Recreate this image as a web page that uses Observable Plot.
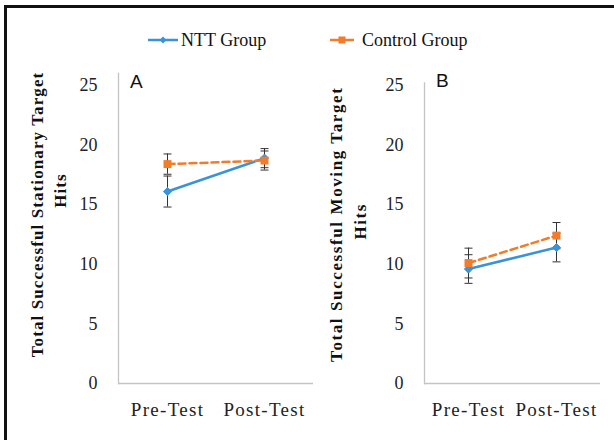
<!DOCTYPE html>
<html><head><meta charset="utf-8">
<script src="https://cdn.jsdelivr.net/npm/d3@7"></script>
<script src="https://cdn.jsdelivr.net/npm/@observablehq/plot@0.6"></script>
<style>
body{margin:0;background:#fff;width:614px;height:440px;overflow:hidden;position:relative;font-family:"Liberation Serif",serif;}
#border{position:absolute;left:4px;top:5px;width:700px;height:600px;border-top:3px solid #111;border-left:3px solid #111;}
.panel{position:absolute;top:60px;}
.panel svg{overflow:visible}
.panel g[aria-label="x-axis tick label"] text{letter-spacing:1.3px;font-size:19px}
.panelA g[aria-label="text"] text{letter-spacing:1.1px}
.panelB g[aria-label="text"] text{letter-spacing:1.6px}
.letter{position:absolute;font-family:"Liberation Sans",Arial,sans-serif;font-size:19px;color:#111;line-height:1}
#legend{position:absolute;left:0;top:0;}
#legend text{font-family:"Liberation Serif",serif;font-size:18px;fill:#111}
</style>
</head><body>
<div id="border"></div>
<div id="legend"></div>
<div class="panel panelA" id="pA" style="left:0px"></div>
<div class="panel panelB" id="pB" style="left:320px"></div>
<div class="letter" style="left:130px;top:72px">A</div>
<div class="letter" style="left:436px;top:71px">B</div>
<script>
// ---- data ----
const categories = ["Pre-Test", "Post-Test"];
const groups = ["NTT Group", "Control Group"];
const yTicks = [0, 5, 10, 15, 20, 25];
// Panel A: stationary target hits
const nttA = [16.1, 18.9];
const nttAErr = [1.3, 0.8];
const ctrlA = [18.4, 18.7];
const ctrlAErr = [0.85, 0.8];
// Panel B: moving target hits
const nttB = [9.6, 11.4];
const nttBErr = [1.2, 1.2];
const ctrlB = [10.1, 12.4];
const ctrlBErr = [1.25, 1.1];
const titleA = ["Total Successful Stationary Target", "Hits"];
const titleB = ["Total Successful Moving Target", "Hits"];

const BLUE = "#3a93d8", ORANGE = "#f07c2c", ERR = "#333";

function rows(ntt, nttErr, ctrl, ctrlErr) {
  const out = [];
  categories.forEach((c, i) => {
    out.push({group: groups[0], phase: c, value: ntt[i], err: nttErr[i]});
    out.push({group: groups[1], phase: c, value: ctrl[i], err: ctrlErr[i]});
  });
  return out;
}
const capSymbol = {draw(ctx, size) { const w = Math.sqrt(size / Math.PI); ctx.moveTo(-w, 0); ctx.lineTo(w, 0); }};

function panel(data, o) {
  const ntt = data.filter(d => d.group === groups[0]);
  const ctrl = data.filter(d => d.group === groups[1]);
  return Plot.plot({
    width: o.width, height: 360,
    marginLeft: o.ml, marginRight: o.mr, marginTop: o.mt, marginBottom: 37,
    style: {fontFamily: "'Liberation Serif', serif", fontSize: "18px", color: "#222", background: "transparent"},
    x: {type: "point", domain: categories, padding: 0.5, tickSize: 0, tickPadding: 19, label: null},
    y: {domain: [0, o.ymax], ticks: yTicks, tickSize: 0, tickPadding: o.tp, label: null},
    marks: [
      Plot.frame({anchor: "left", stroke: "#c4c4c4", strokeWidth: 1.3}),
      Plot.ruleY([0], {stroke: "#c4c4c4", strokeWidth: 1.3}),
      Plot.ruleX(data, {x: "phase", y1: d => d.value - d.err, y2: d => d.value + d.err, stroke: ERR, strokeWidth: 1}),
      Plot.dot(data, {x: "phase", y: d => d.value + d.err, symbol: capSymbol, r: 4, stroke: ERR, fill: "none", strokeWidth: 1}),
      Plot.dot(data, {x: "phase", y: d => d.value - d.err, symbol: capSymbol, r: 4, stroke: ERR, fill: "none", strokeWidth: 1}),
      Plot.line(ntt, {x: "phase", y: "value", stroke: BLUE, strokeWidth: 2.5}),
      Plot.line(ctrl, {x: "phase", y: "value", stroke: ORANGE, strokeWidth: 2.5, strokeDasharray: "7,4"}),
      Plot.dot(ntt, {x: "phase", y: "value", symbol: "diamond2", r: 3.7, fill: BLUE, stroke: BLUE, strokeWidth: 1}),
      Plot.dot(ctrl, {x: "phase", y: "value", symbol: "square", r: 4.5, fill: ORANGE, stroke: "none"}),
      Plot.text([o.title[0]], {frameAnchor: "left", textAnchor: "middle", text: d => d, rotate: -90, dx: o.t1[0], dy: o.t1[1], fontWeight: "bold", fontSize: 17, fill: "#111"}),
      Plot.text([o.title[1]], {frameAnchor: "left", textAnchor: "middle", text: d => d, rotate: -90, dx: o.t2[0], dy: o.t2[1], fontWeight: "bold", fontSize: 17, fill: "#111"})
    ]
  });
}

document.getElementById("pA").append(panel(rows(nttA, nttAErr, ctrlA, ctrlAErr),
  {width: 320, ml: 118, mr: 7, mt: 13, ymax: 26, tp: 21, title: titleA, t1: [-81, -14], t2: [-58, -38]}));
document.getElementById("pB").append(panel(rows(nttB, nttBErr, ctrlB, ctrlBErr),
  {width: 294, ml: 104, mr: 14, mt: 22.5, ymax: 25.2, tp: 21, title: titleB, t1: [-88, -9], t2: [-64, -12]}));

// ---- legend ----
const legendItems = [
  {label: groups[0], color: BLUE, symbol: d3.symbolDiamond2, size: 30, x1: 148, x2: 178, tx: 181},
  {label: groups[1], color: ORANGE, symbol: d3.symbolSquare, size: 50, x1: 330, x2: 354, tx: 362}
];
const lsvg = d3.select("#legend").append("svg").attr("width", 614).attr("height", 60);
legendItems.forEach(it => {
  const g = lsvg.append("g");
  g.append("line").attr("x1", it.x1).attr("x2", it.x2).attr("y1", 40).attr("y2", 40).attr("stroke", it.color).attr("stroke-width", 2.5);
  g.append("path").attr("d", d3.symbol(it.symbol, it.size)()).attr("transform", `translate(${(it.x1 + it.x2) / 2},40)`).attr("fill", it.color);
  g.append("text").attr("x", it.tx).attr("y", 46).style("font-family", "Liberation Serif, serif").text(it.label);
});
</script>
</body></html>
